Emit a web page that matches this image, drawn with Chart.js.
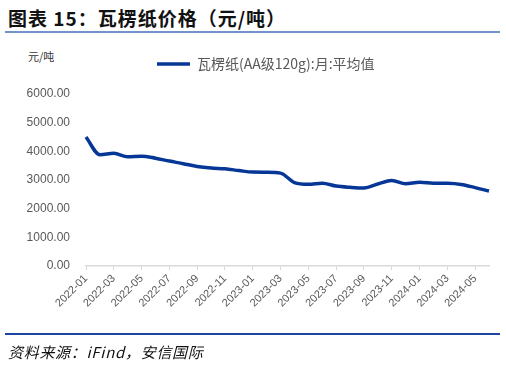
<!DOCTYPE html>
<html>
<head>
<meta charset="utf-8">
<script src="https://cdn.jsdelivr.net/npm/chart.js@4.4.1/dist/chart.umd.min.js"></script>
<style>
  html, body { margin: 0; padding: 0; background: #fff; }
  body { width: 506px; height: 365px; position: relative; overflow: hidden; font-family: "Noto Sans CJK SC", sans-serif; }
  #title { position: absolute; left: 8px; top: 4px; font-size: 19px; letter-spacing: 1px; font-weight: bold; color: #111; white-space: nowrap; }
  #topline { position: absolute; left: 5px; top: 31px; width: 495px; height: 2px; background: #7393cb; }
  #unit { position: absolute; left: 28px; top: 48px; font-size: 11px; color: #333; }
  #wrap { position: absolute; left: 0; top: 0; width: 506px; height: 335px; }
  #botline { position: absolute; left: 5px; top: 333px; width: 495px; height: 2px; background: #1d44a0; }
  #source { position: absolute; left: 8px; top: 341px; font-size: 15px; letter-spacing: 0.7px; font-style: italic; color: #111; white-space: nowrap; }
</style>
</head>
<body>
<div id="title">图表 15：瓦楞纸价格（元/吨）</div>
<div id="topline"></div>
<div id="unit">元/吨</div>
<div id="wrap"><canvas id="myChart"></canvas></div>
<div id="botline"></div>
<div id="source">资料来源：iFind，安信国际</div>
<script>
const months = [
  '2022-01', '2022-02', '2022-03', '2022-04', '2022-05', '2022-06',
  '2022-07', '2022-08', '2022-09', '2022-10', '2022-11', '2022-12',
  '2023-01', '2023-02', '2023-03', '2023-04', '2023-05', '2023-06',
  '2023-07', '2023-08', '2023-09', '2023-10', '2023-11', '2023-12',
  '2024-01', '2024-02', '2024-03', '2024-04', '2024-05', '2024-06'
];
const prices = [
  4500, 3880, 3930, 3810, 3830, 3760,
  3660, 3570, 3470, 3415, 3390, 3330,
  3275, 3270, 3240, 2910, 2850, 2890,
  2790, 2745, 2720, 2860, 2985, 2870,
  2925, 2890, 2885, 2845, 2735, 2615
];
const seriesName = '瓦楞纸(AA级120g):月:平均值';
const yTicks = [0, 1000, 2000, 3000, 4000, 5000, 6000];

// legend row should start at x = 157, and sit a bit higher than Chart.js puts it
const legendStartX = 157;
const legendLiftY = 13;

const legendShift = {
  id: 'legendShift',
  afterLayout: function (chart) {
    const lg = chart.legend;
    if (!lg || !lg.lineWidths) return;
    const p = lg.options.labels.padding;
    const start = (lg.left + p + lg.right - lg.lineWidths[0]) / 2;
    const dx = legendStartX - start;
    lg.left += dx;
    lg.right += dx;
    lg.top -= legendLiftY;
    lg.bottom -= legendLiftY;
  }
};

const ctx = document.getElementById('myChart');

new Chart(ctx, {
  type: 'line',
  data: {
    labels: months,
    datasets: [{
      label: seriesName,
      data: prices,
      borderColor: '#063797',
      backgroundColor: '#063797',
      borderWidth: 3.5,
      cubicInterpolationMode: 'monotone',
      pointRadius: 0,
      fill: false
    }]
  },
  plugins: [legendShift],
  options: {
    responsive: true,
    maintainAspectRatio: false,
    animation: false,
    layout: {
      padding: { left: 24, right: 17, top: 45, bottom: 0 }
    },
    plugins: {
      legend: {
        display: true,
        labels: {
          usePointStyle: true,
          pointStyle: 'line',
          pointStyleWidth: 33,
          boxHeight: 14,
          color: '#595959',
          padding: 25,
          font: { family: '"Noto Sans CJK SC", sans-serif', size: 14 }
        }
      },
      tooltip: { enabled: false }
    },
    scales: {
      x: {
        offset: false,
        grid: {
          display: true,
          drawOnChartArea: false,
          drawTicks: true,
          tickLength: 4,
          color: '#d9d9d9'
        },
        border: { display: true, color: '#d9d9d9', width: 1.5 },
        ticks: {
          autoSkip: false,
          maxRotation: 45,
          minRotation: 45,
          color: '#595959',
          padding: 2,
          font: { family: '"Liberation Sans", Arial, sans-serif', size: 11 },
          callback: function (value, index) {
            return index % 2 === 0 ? months[index] : null;
          }
        },
        afterFit: function (scale) {
          scale.height = 69;
        }
      },
      y: {
        min: 0,
        max: 6000,
        afterBuildTicks: function (scale) {
          scale.ticks = yTicks.map(function (v) { return { value: v }; });
        },
        grid: { display: false, drawTicks: false },
        border: { display: false },
        ticks: {
          color: '#595959',
          padding: 16,
          font: { family: '"Liberation Sans", Arial, sans-serif', size: 12 },
          callback: function (value) {
            return value.toFixed(2);
          }
        },
        afterFit: function (scale) {
          scale.width = 62;
        }
      }
    }
  }
});
</script>
</body>
</html>
